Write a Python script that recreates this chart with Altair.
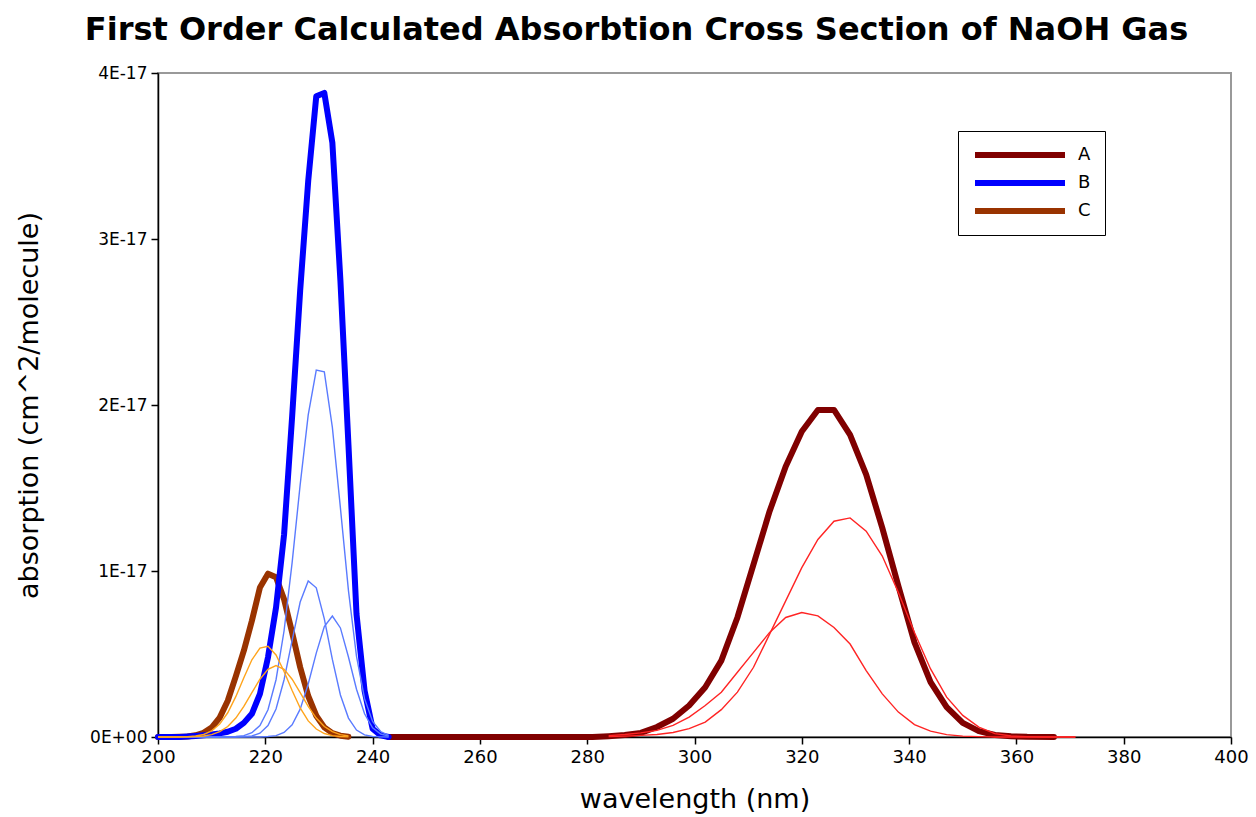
import altair as alt
import pandas as pd

# ---- wavelength grids (nm) ----
WL_B = [200, 202.5, 204, 205.5, 207, 208.5, 210, 211.5, 213, 214.5, 216, 217.5,
        219, 220.5, 222, 223.5, 225, 226.5, 228, 229.5, 231, 232.5, 234, 235.5,
        237, 238.5, 240, 241.5, 243]
WL_C = [200, 202.5, 204, 205.5, 207, 208.5, 210, 211.5, 213, 214.5, 216, 217.5,
        219, 220.5, 222, 223.5, 225, 226.5, 228, 229.5, 231, 232.5, 234, 235.5]
WL_A = [243, 281, 284, 287, 290, 293, 296, 299, 302, 305, 308, 311, 314, 317, 320,
        323, 326, 329, 332, 335, 338, 341, 344, 347, 350, 353, 356, 359, 362, 367]
WL_A_PARTS = [284, 287, 290, 293, 296, 299, 302, 305, 308, 311, 314, 317, 320, 323,
              326, 329, 332, 335, 338, 341, 344, 347, 350, 353, 356, 359, 362, 365,
              368, 371]

# ---- absorption, in units of 1E-17 cm^2/molecule ----
A_TOTAL = [0, 0, 0.005, 0.012, 0.025, 0.06, 0.11, 0.19, 0.30, 0.46, 0.72, 1.04,
           1.36, 1.63, 1.84, 1.97, 1.97, 1.82, 1.58, 1.26, 0.91, 0.57, 0.33, 0.18,
           0.085, 0.035, 0.012, 0.004, 0.001, 0]
A_PART1 = [0.002, 0.005, 0.01, 0.015, 0.027, 0.05, 0.09, 0.165, 0.27, 0.42, 0.62,
           0.82, 1.02, 1.19, 1.30, 1.32, 1.24, 1.09, 0.87, 0.63, 0.41, 0.24, 0.13,
           0.06, 0.02, 0.006, 0.002, 0, 0, 0]
A_PART2 = [0.008, 0.015, 0.025, 0.04, 0.07, 0.12, 0.19, 0.27, 0.39, 0.51, 0.63,
           0.72, 0.75, 0.73, 0.66, 0.56, 0.40, 0.26, 0.15, 0.075, 0.035, 0.014,
           0.005, 0.002, 0, 0, 0, 0, 0, 0]

B_TOTAL = [0, 0, 0, 0.003, 0.006, 0.01, 0.015, 0.022, 0.032, 0.05, 0.085, 0.14,
           0.26, 0.48, 0.78, 1.22, 1.93, 2.69, 3.35, 3.86, 3.88, 3.58, 2.75, 1.76,
           0.74, 0.28, 0.05, 0.01, 0]
B_PART1 = [0, 0, 0, 0, 0, 0, 0, 0, 0.001, 0.003, 0.008, 0.026, 0.069, 0.164,
           0.345, 0.64, 1.05, 1.52, 1.94, 2.21, 2.20, 1.865, 1.38, 0.882, 0.486,
           0.231, 0.094, 0.033, 0.01]
B_PART2 = [0, 0, 0, 0, 0, 0, 0, 0, 0, 0, 0.002, 0.006, 0.023, 0.069, 0.169, 0.345,
           0.582, 0.813, 0.94, 0.899, 0.712, 0.467, 0.253, 0.114, 0.042, 0.013,
           0.003, 0.001, 0]
B_PART3 = [0, 0, 0, 0, 0, 0, 0, 0, 0, 0, 0, 0, 0, 0.003, 0.008, 0.027, 0.073,
           0.168, 0.319, 0.505, 0.665, 0.729, 0.657, 0.482, 0.288, 0.14, 0.055,
           0.018, 0.005]

C_TOTAL = [0, 0, 0.001, 0.003, 0.01, 0.025, 0.057, 0.117, 0.218, 0.365, 0.52,
           0.70, 0.901, 0.984, 0.962, 0.829, 0.629, 0.42, 0.247, 0.128, 0.058,
           0.023, 0.008, 0.002]
C_PART1 = [0, 0, 0.001, 0.002, 0.006, 0.015, 0.037, 0.078, 0.146, 0.243, 0.357,
           0.465, 0.535, 0.546, 0.494, 0.395, 0.28, 0.175, 0.097, 0.048, 0.021,
           0.008, 0.003, 0.001]
C_PART2 = [0, 0, 0, 0.001, 0.002, 0.006, 0.014, 0.032, 0.063, 0.114, 0.184, 0.267,
           0.348, 0.408, 0.43, 0.408, 0.348, 0.267, 0.184, 0.114, 0.063, 0.032,
           0.014, 0.006]

UNIT = 1e-17
SERIES = ["A", "B", "C"]
SERIES_COLORS = ["#800000", "#0000FF", "#993300"]
PART_COLORS = {"A": "#FF2424", "B": "#5A7BFF", "C": "#FFA41C"}
FONT = "DejaVu Sans"


def frame(wl, vals, series, part):
    return pd.DataFrame({
        "wavelength": wl,
        "absorption": [v * UNIT for v in vals],
        "series": series,
        "part": part,
    })


totals = pd.concat([
    frame(WL_A, A_TOTAL, "A", "A"),
    frame(WL_B, B_TOTAL, "B", "B"),
    frame(WL_C, C_TOTAL, "C", "C"),
], ignore_index=True)

parts = pd.concat([
    frame(WL_A_PARTS, A_PART1, "A", "A1"),
    frame(WL_A_PARTS, A_PART2, "A", "A2"),
    frame(WL_B, B_PART1, "B", "B1"),
    frame(WL_B, B_PART2, "B", "B2"),
    frame(WL_B, B_PART3, "B", "B3"),
    frame(WL_C, C_PART1, "C", "C1"),
    frame(WL_C, C_PART2, "C", "C2"),
], ignore_index=True)

x_enc = alt.X(
    "wavelength:Q",
    scale=alt.Scale(domain=[200, 400], nice=False, zero=False),
    axis=alt.Axis(
        values=list(range(200, 401, 20)),
        title="wavelength (nm)",
        labelFontSize=18,
        titleFontSize=27,
        tickSize=7,
        labelPadding=4,
        labelFlush=False,
        titlePadding=20,
    ),
)
y_enc = alt.Y(
    "absorption:Q",
    scale=alt.Scale(domain=[0, 4 * UNIT], nice=False),
    axis=alt.Axis(
        values=[0, 1 * UNIT, 2 * UNIT, 3 * UNIT, 4 * UNIT],
        labelExpr="datum.value == 0 ? '0E+00' : upper(format(datum.value, '.0e'))",
        title="absorption (cm^2/molecule)",
        labelFontSize=17,
        titleFontSize=27,
        tickSize=7,
        labelPadding=4,
        labelFlush=False,
        titlePadding=46,
    ),
)
color_enc = alt.Color(
    "series:N",
    scale=alt.Scale(domain=SERIES, range=SERIES_COLORS),
    legend=alt.Legend(
        title=None,
        orient="none",
        legendX=800,
        legendY=58,
        symbolType="stroke",
        symbolSize=8100,
        symbolStrokeWidth=6,
        clipHeight=20,
        labelFontSize=18,
        labelFont=FONT,
        labelColor="black",
        labelOffset=10,
        padding=14,
        rowPadding=8,
        strokeColor="black",
        fillColor="white",
    ),
)

total_base = alt.Chart(totals).mark_line(strokeWidth=6, strokeJoin="round", strokeCap="round")
part_base = alt.Chart(parts).mark_line(strokeWidth=1.4)


def total_layer(name):
    return total_base.transform_filter(alt.datum.series == name).encode(
        x=x_enc, y=y_enc, color=color_enc
    )


def part_layer(name):
    return part_base.transform_filter(alt.datum.series == name).mark_line(
        strokeWidth=1.4, color=PART_COLORS[name]
    ).encode(x=x_enc, y=y_enc, detail="part:N")


chart = alt.layer(
    total_layer("A"),
    total_layer("C"),
    total_layer("B"),
    part_layer("A"),
    part_layer("B"),
    part_layer("C"),
).properties(
    width=1073,
    height=664,
    autosize=alt.AutoSizeParams(type="none"),
    padding={"left": 158, "top": 73, "right": 25, "bottom": 80},
    title=alt.TitleParams(
        text="First Order Calculated Absorbtion Cross Section of NaOH Gas",
        font=FONT,
        fontSize=32,
        fontWeight="bold",
        anchor="middle",
        dx=-58,
        offset=17,
        color="black",
    ),
).configure_view(
    stroke="#999999", strokeWidth=2
).configure_axis(
    grid=False,
    domainColor="black",
    domainWidth=1.5,
    tickColor="black",
    tickWidth=1.5,
    labelColor="black",
    titleColor="black",
    labelFont=FONT,
    titleFont=FONT,
    titleFontWeight="normal",
)

chart.save("out.html", embed_options={"renderer": "svg", "actions": False})
